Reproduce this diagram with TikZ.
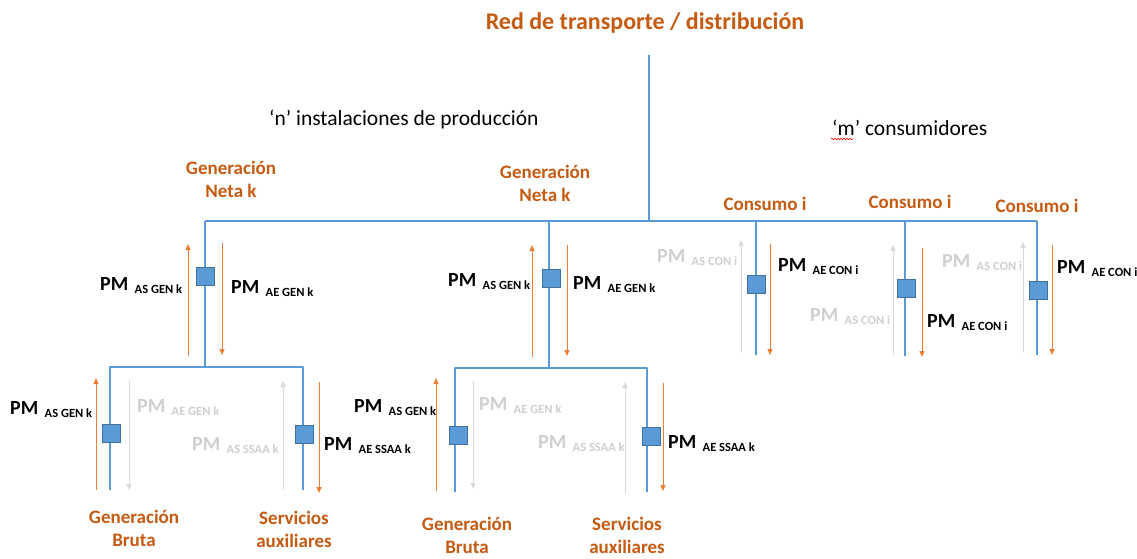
\documentclass[tikz,border=0pt]{standalone}
\usepackage{fontspec}
\setmainfont{Carlito}
\usetikzlibrary{arrows.meta,decorations.pathmorphing}
\definecolor{lblue}{HTML}{5B9BD5}
\definecolor{dblue}{HTML}{41719C}
\definecolor{otext}{HTML}{C55A11}
\definecolor{oarrow}{HTML}{ED7D31}
\definecolor{gtext}{HTML}{D0CECE}
\definecolor{garrow}{HTML}{D9D9D9}
\newcommand\pmlab[1]{PM\hspace{0.32em}\raisebox{-3.5pt}{\fontsize{12.5}{13}\selectfont #1}}
\begin{document}
\begin{tikzpicture}[x=1pt,y=-1pt,
  bus/.style={draw=lblue,line width=2.8pt,line join=round},
  meter/.style={draw=dblue,fill=lblue,line width=0.8pt,minimum width=18pt,minimum height=18pt,inner sep=0pt},
  oarr/.style={draw=oarrow,line width=1pt,-{Triangle[width=5pt,length=6pt]}},
  garr/.style={draw=garrow,line width=1pt,-{Triangle[width=5pt,length=6pt]}},
  pmb/.style={anchor=base west,inner sep=0pt,font=\fontsize{20}{24}\selectfont\bfseries,text=black},
  pmg/.style={pmb,text=gtext},
  olab/.style={anchor=base,inner sep=0pt,align=center,font=\fontsize{19}{23}\selectfont\bfseries,text=otext},
  plain/.style={anchor=base west,inner sep=0pt,font=\fontsize{21.5}{25}\selectfont,text=black}
]
\useasboundingbox (0,0) rectangle (1137,558);

% ---- texts
\node[anchor=base,inner sep=0pt,font=\fontsize{24}{28}\selectfont\bfseries,text=otext] (title) at (645,29) {Red de transporte / distribución};
\node[plain] (ninst) at (269,125) {‘n’ instalaciones de producción};
\node[plain] (mcons) at (832,135) {‘m’ consumidores};
\draw[red,line width=0.6pt,decorate,decoration={snake,amplitude=0.8pt,segment length=3pt}] (831,139) -- (853,139);

% ---- main network
\coordinate (top) at (649,55);
\coordinate (busM) at (649,221);
\coordinate (busL) at (205,221);
\coordinate (busR) at (1037,221);
\coordinate (busG2) at (549,221);
\coordinate (busC1) at (756,221);
\coordinate (busC2) at (905,221);
\draw[bus] (top) -- (busM);
\draw[bus] (busL) -- (busR);

% ---- generator 1
\coordinate (j1) at (205,367);
\coordinate (j1L) at (110,367);
\coordinate (j1R) at (303,367);
\coordinate (e1L) at (110,490);
\coordinate (e1R) at (303,490);
\draw[bus] (busL) -- (j1);
\draw[bus] (e1L) -- (j1L) -- (j1R) -- (e1R);
\node[meter] (m1) at (205,276) {};
\node[meter] (m1L) at (111,433) {};
\node[meter] (m1R) at (304,434) {};

% generator 1 arrows
\coordinate (a1s) at (188,356); \coordinate (a1e) at (188,244);
\coordinate (a2s) at (222,243); \coordinate (a2e) at (222,355);
\draw[oarr] (a1s) -- (a1e);
\draw[oarr] (a2s) -- (a2e);
\coordinate (a3s) at (96,490); \coordinate (a3e) at (96,378);
\coordinate (a4s) at (129,380); \coordinate (a4e) at (129,490);
\coordinate (a5s) at (283,490); \coordinate (a5e) at (283,381);
\coordinate (a6s) at (319,382); \coordinate (a6e) at (319,493);
\draw[oarr] (a3s) -- (a3e);
\draw[garr] (a4s) -- (a4e);
\draw[garr] (a5s) -- (a5e);
\draw[oarr] (a6s) -- (a6e);

\node[pmb] (l1) at (100,290) {\pmlab{AS GEN k}};
\node[pmb] (l2) at (231,293) {\pmlab{AE GEN k}};
\node[pmb] (l3) at (10,414) {\pmlab{AS GEN k}};
\node[pmg] (l4) at (137,412) {\pmlab{AE GEN k}};
\node[pmg] (l5) at (192,450) {\pmlab{AS SSAA k}};
\node[pmb] (l6) at (324,450) {\pmlab{AE SSAA k}};

\node[olab] (gn1) at (231,197) {Generación\\Neta k};
\node[olab] (gb1) at (134,546) {Generación\\Bruta};
\node[olab] (sa1) at (294,547) {Servicios\\auxiliares};

% ---- generator 2
\coordinate (j2) at (549,368);
\coordinate (j2L) at (455,368);
\coordinate (j2R) at (647,368);
\coordinate (e2L) at (455,492);
\coordinate (e2R) at (647,492);
\draw[bus] (busG2) -- (j2);
\draw[bus] (e2L) -- (j2L) -- (j2R) -- (e2R);
\node[meter] (m2) at (551,278) {};
\node[meter] (m2L) at (458,435) {};
\node[meter] (m2R) at (651,436) {};

\coordinate (b1s) at (532,357); \coordinate (b1e) at (532,245);
\coordinate (b2s) at (567,245); \coordinate (b2e) at (567,356);
\draw[oarr] (b1s) -- (b1e);
\draw[oarr] (b2s) -- (b2e);
\coordinate (b3s) at (436,491); \coordinate (b3e) at (436,378);
\coordinate (b4s) at (473,381); \coordinate (b4e) at (473,489);
\coordinate (b5s) at (625,493); \coordinate (b5e) at (625,382);
\coordinate (b6s) at (663,383); \coordinate (b6e) at (663,491);
\draw[oarr] (b3s) -- (b3e);
\draw[garr] (b4s) -- (b4e);
\draw[garr] (b5s) -- (b5e);
\draw[oarr] (b6s) -- (b6e);

\node[pmb] (k1) at (448,286) {\pmlab{AS GEN k}};
\node[pmb] (k2) at (573,289) {\pmlab{AE GEN k}};
\node[pmb] (k3) at (354,412) {\pmlab{AS GEN k}};
\node[pmg] (k4) at (479,410) {\pmlab{AE GEN k}};
\node[pmg] (k5) at (538,448) {\pmlab{AS SSAA k}};
\node[pmb] (k6) at (668,448) {\pmlab{AE SSAA k}};

\node[olab] (gn2) at (545,201) {Generación\\Neta k};
\node[olab] (gb2) at (467,553) {Generación\\Bruta};
\node[olab] (sa2) at (627,553) {Servicios\\auxiliares};

% ---- consumers
\coordinate (ce1) at (756,355);
\coordinate (ce2) at (905,356);
\coordinate (ce3) at (1037,355);
\draw[bus] (busC1) -- (ce1);
\draw[bus] (busC2) -- (ce2);
\draw[bus] (busR) -- (ce3);
\node[meter] (c1) at (756,284) {};
\node[meter] (c2) at (906,288) {};
\node[meter] (c3) at (1038,290) {};

\coordinate (d1s) at (741,352); \coordinate (d1e) at (741,240);
\coordinate (d2s) at (770,244); \coordinate (d2e) at (770,355);
\coordinate (d3s) at (893,355); \coordinate (d3e) at (893,245);
\coordinate (d4s) at (922,248); \coordinate (d4e) at (922,357);
\coordinate (d5s) at (1023,352); \coordinate (d5e) at (1023,242);
\coordinate (d6s) at (1052,245); \coordinate (d6e) at (1052,355);
\draw[garr] (d1s) -- (d1e);
\draw[oarr] (d2s) -- (d2e);
\draw[garr] (d3s) -- (d3e);
\draw[oarr] (d4s) -- (d4e);
\draw[garr] (d5s) -- (d5e);
\draw[oarr] (d6s) -- (d6e);

\node[pmg] (q1) at (657,262) {\pmlab{AS CON i}};
\node[pmb] (q2) at (778,271) {\pmlab{AE CON i}};
\node[pmg] (q3) at (810,321) {\pmlab{AS CON i}};
\node[pmb] (q4) at (927,327) {\pmlab{AE CON i}};
\node[pmg] (q5) at (942,267) {\pmlab{AS CON i}};
\node[pmb] (q6) at (1057,273) {\pmlab{AE CON i}};

\node[olab] (co1) at (765,210) {Consumo i};
\node[olab] (co2) at (910,208) {Consumo i};
\node[olab] (co3) at (1037,212) {Consumo i};
\end{tikzpicture}
\end{document}
